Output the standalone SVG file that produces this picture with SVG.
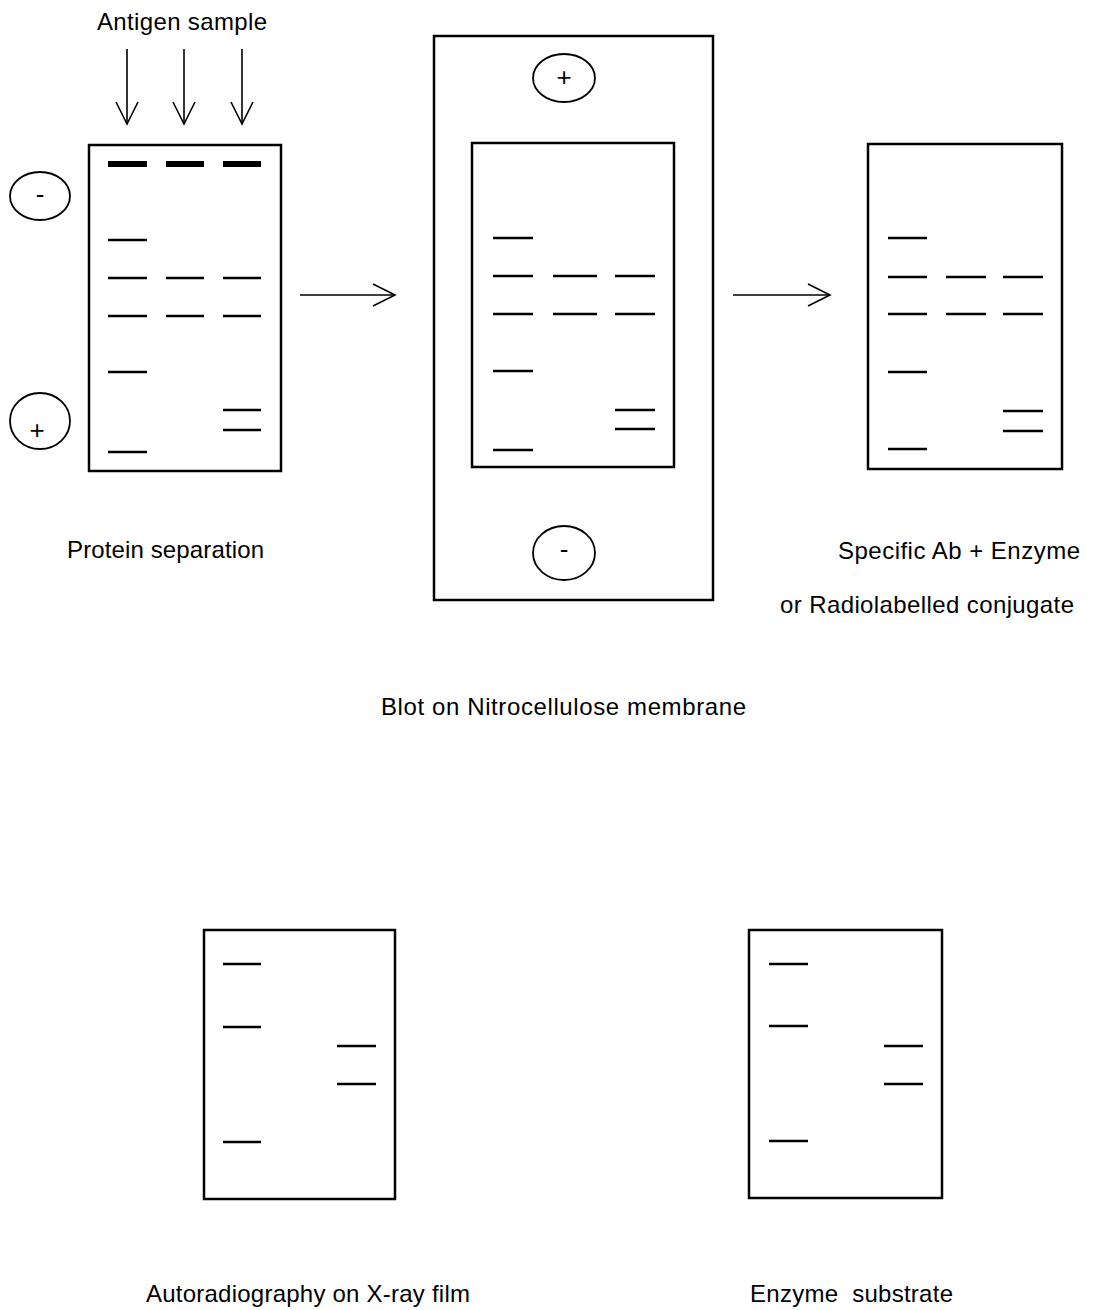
<svg xmlns="http://www.w3.org/2000/svg" width="1094" height="1310" viewBox="0 0 1094 1310">
<style>
.frame{fill:none;stroke:#000;stroke-width:2.5}
.band{stroke:#000;stroke-width:2.5}
.thick{stroke:#000;stroke-width:6}
.pole{fill:none;stroke:#000;stroke-width:1.8}
.sign{font-family:"Liberation Sans",Arial,sans-serif;font-size:26px;fill:#000;text-anchor:middle}
.lbl{font-family:"Liberation Sans",Arial,sans-serif;font-size:24px;fill:#000;white-space:pre}
.conn{fill:none;stroke:#000;stroke-width:1.6}
</style>
<defs>
<marker id="open" viewBox="-24 -13 26 26" markerWidth="26" markerHeight="26" refX="0" refY="0" orient="auto" markerUnits="userSpaceOnUse">
<path d="M-22,-11 L0,0 L-22,11" fill="none" stroke="#000" stroke-width="1.6"/>
</marker>
</defs>
<rect width="1094" height="1310" fill="#fff"/>

<g id="connectors">
<line class="conn" x1="127" y1="49" x2="127" y2="124" marker-end="url(#open)"/>
<line class="conn" x1="184" y1="49" x2="184" y2="124" marker-end="url(#open)"/>
<line class="conn" x1="242" y1="49" x2="242" y2="124" marker-end="url(#open)"/>
<line class="conn" x1="300" y1="295" x2="395" y2="295" marker-end="url(#open)"/>
<line class="conn" x1="733" y1="295" x2="830" y2="295" marker-end="url(#open)"/>
</g>

<g id="antigen-label">
<text class="lbl" x="97" y="30" textLength="170">Antigen sample</text>
</g>

<g id="gel-separation">
<ellipse class="pole" cx="40" cy="196" rx="30" ry="24"/>
<text class="sign" x="40" y="203">-</text>
<ellipse class="pole" cx="40" cy="421" rx="30" ry="28"/>
<text class="sign" x="37" y="439">+</text>
<rect class="frame" x="89" y="145" width="192" height="326"/>
<line class="thick" x1="108" y1="164" x2="147" y2="164"/>
<line class="thick" x1="166" y1="164" x2="204" y2="164"/>
<line class="thick" x1="223" y1="164" x2="261" y2="164"/>
<line class="band" x1="108" y1="240" x2="147" y2="240"/>
<line class="band" x1="108" y1="278" x2="147" y2="278"/>
<line class="band" x1="166" y1="278" x2="204" y2="278"/>
<line class="band" x1="223" y1="278" x2="261" y2="278"/>
<line class="band" x1="108" y1="316" x2="147" y2="316"/>
<line class="band" x1="166" y1="316" x2="204" y2="316"/>
<line class="band" x1="223" y1="316" x2="261" y2="316"/>
<line class="band" x1="108" y1="372" x2="147" y2="372"/>
<line class="band" x1="223" y1="410" x2="261" y2="410"/>
<line class="band" x1="223" y1="430" x2="261" y2="430"/>
<line class="band" x1="108" y1="452" x2="147" y2="452"/>
<text class="lbl" x="67" y="558" textLength="197">Protein separation</text>
</g>

<g id="blot-membrane">
<rect class="frame" x="434" y="36" width="279" height="564"/>
<ellipse class="pole" cx="564" cy="78" rx="31" ry="24"/>
<text class="sign" x="564" y="86">+</text>
<rect class="frame" x="472" y="143" width="202" height="324"/>
<line class="band" x1="493" y1="238" x2="533" y2="238"/>
<line class="band" x1="493" y1="276" x2="533" y2="276"/>
<line class="band" x1="553" y1="276" x2="597" y2="276"/>
<line class="band" x1="615" y1="276" x2="655" y2="276"/>
<line class="band" x1="493" y1="314" x2="533" y2="314"/>
<line class="band" x1="553" y1="314" x2="597" y2="314"/>
<line class="band" x1="615" y1="314" x2="655" y2="314"/>
<line class="band" x1="493" y1="371" x2="533" y2="371"/>
<line class="band" x1="615" y1="410" x2="655" y2="410"/>
<line class="band" x1="615" y1="429" x2="655" y2="429"/>
<line class="band" x1="493" y1="450" x2="533" y2="450"/>
<ellipse class="pole" cx="564" cy="553" rx="31" ry="27"/>
<text class="sign" x="564" y="558">-</text>
<text class="lbl" x="381" y="715" textLength="365">Blot on Nitrocellulose membrane</text>
</g>

<g id="gel-probed">
<rect class="frame" x="868" y="144" width="194" height="325"/>
<line class="band" x1="888" y1="238" x2="927" y2="238"/>
<line class="band" x1="888" y1="277" x2="927" y2="277"/>
<line class="band" x1="946" y1="277" x2="986" y2="277"/>
<line class="band" x1="1003" y1="277" x2="1043" y2="277"/>
<line class="band" x1="888" y1="314" x2="927" y2="314"/>
<line class="band" x1="946" y1="314" x2="986" y2="314"/>
<line class="band" x1="1003" y1="314" x2="1043" y2="314"/>
<line class="band" x1="888" y1="372" x2="927" y2="372"/>
<line class="band" x1="1003" y1="411" x2="1043" y2="411"/>
<line class="band" x1="1003" y1="431" x2="1043" y2="431"/>
<line class="band" x1="888" y1="449" x2="927" y2="449"/>
<text class="lbl" x="838" y="559" textLength="242">Specific Ab + Enzyme</text>
<text class="lbl" x="780" y="613" textLength="294">or Radiolabelled conjugate</text>
</g>

<g id="autoradiography">
<rect class="frame" x="204" y="930" width="191" height="269"/>
<line class="band" x1="223" y1="964" x2="261" y2="964"/>
<line class="band" x1="223" y1="1027" x2="261" y2="1027"/>
<line class="band" x1="223" y1="1142" x2="261" y2="1142"/>
<line class="band" x1="337" y1="1046" x2="376" y2="1046"/>
<line class="band" x1="337" y1="1084" x2="376" y2="1084"/>
<text class="lbl" x="146" y="1302" textLength="324">Autoradiography on X-ray film</text>
</g>

<g id="enzyme-substrate">
<rect class="frame" x="749" y="930" width="193" height="268"/>
<line class="band" x1="769" y1="964" x2="808" y2="964"/>
<line class="band" x1="769" y1="1026" x2="808" y2="1026"/>
<line class="band" x1="769" y1="1141" x2="808" y2="1141"/>
<line class="band" x1="884" y1="1046" x2="923" y2="1046"/>
<line class="band" x1="884" y1="1084" x2="923" y2="1084"/>
<text class="lbl" x="750" y="1302" textLength="203">Enzyme  substrate</text>
</g>
</svg>
